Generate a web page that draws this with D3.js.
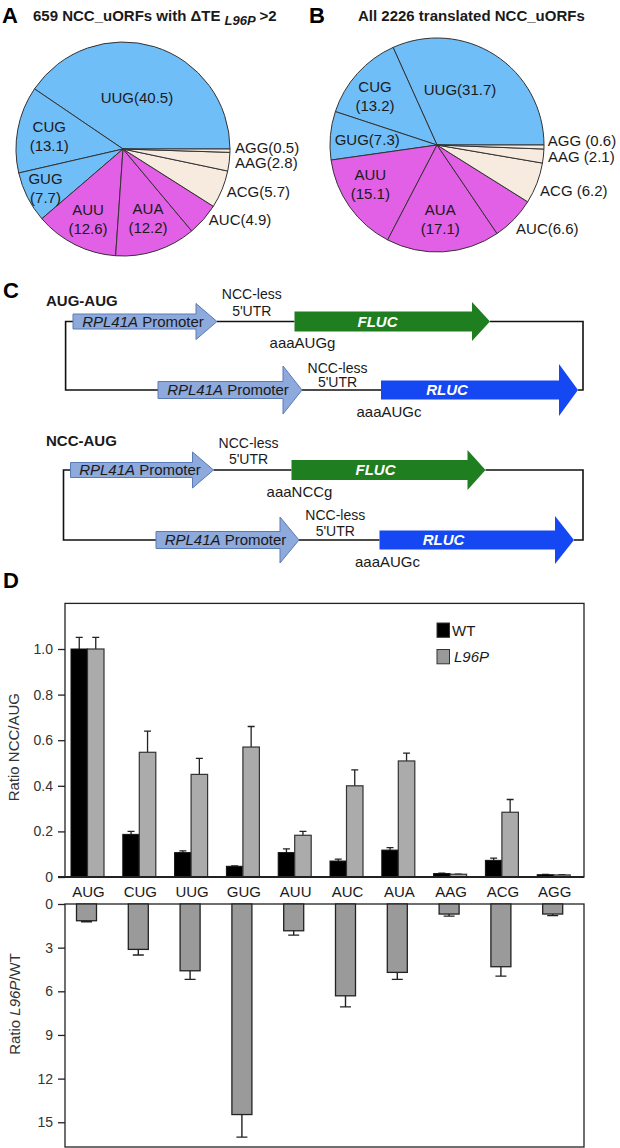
<!DOCTYPE html>
<html><head><meta charset="utf-8">
<script src="https://cdn.jsdelivr.net/npm/d3@7"></script>
<style>
body{margin:0;background:#fff;}
svg{display:block;font-family:"Liberation Sans",Arial,Helvetica,sans-serif;}
</style></head><body>
<svg id="fig" width="620" height="1148"></svg>
<script>
// ---------- DATA ----------
// Panels A & B: pie slices (percent), counter-clockwise from 3 o'clock
const codons = ["UUG","CUG","GUG","AUU","AUA","AUC","ACG","AAG","AGG"];
const pctA = [40.5,13.1,7.7,12.6,12.2,4.9,5.7,2.8,0.5];
const pctB = [31.7,13.2,7.3,15.1,17.1,6.6,6.2,2.1,0.6];
const codonClass = ["U","U","U","A","A","A","N","N","N"];
const titleA = ["659 NCC_uORFs with \u0394TE", "L96P", ">2"];
const titleB = "All 2226 translated NCC_uORFs";

// Panel C: reporter constructs
const constructNames = ["AUG-AUG","NCC-AUG"];
const geneNames = ["FLUC","RLUC","FLUC","RLUC"];
const startContexts = ["aaaAUGg","aaaAUGc","aaaNCCg","aaaAUGc"];
const promoterName = ["RPL41A"," Promoter"];
const utrLabel = ["NCC-less","5'UTR"];

// Panel D: ratios
const cats = ["AUG","CUG","UUG","GUG","AUU","AUC","AUA","AAG","ACG","AGG"];
const wtRatio   = [1.0,0.187,0.107,0.047,0.107,0.070,0.118,0.015,0.073,0.010];
const wtSD      = [0.051,0.013,0.008,0.002,0.016,0.008,0.011,0.002,0.010,0.001];
const l96pRatio = [1.0,0.547,0.450,0.570,0.183,0.400,0.509,0.012,0.284,0.009];
const l96pSD    = [0.051,0.093,0.070,0.090,0.017,0.070,0.034,0.001,0.056,0.001];
const foldRatio = [1.15,3.12,4.59,14.47,1.84,6.31,4.70,0.69,4.31,0.69];
const foldSD    = [0.07,0.38,0.59,1.55,0.30,0.76,0.48,0.14,0.65,0.11];
const topTicks = [0,0.2,0.4,0.6,0.8,1.0];
const botTicks = [0,3,6,9,12,15];

// ---------- STYLE / LAYOUT ----------
const colClass = {U:"#70BEF8", A:"#E160E6", N:"#F7EADF"};
const svg = d3.select("#fig");
const txt = "#1a1a1a";

function letter(s,x,y){svg.append("text").attr("x",x).attr("y",y).attr("font-size",22).attr("font-weight","bold").attr("fill","#000").text(s);}
letter("A",2,23); letter("B",309,23); letter("C",3,298); letter("D",3,588);

// titles
const tA = svg.append("text").attr("x",33).attr("y",21).attr("font-size",15).attr("font-weight","bold").attr("fill",txt);
tA.append("tspan").text(titleA[0]);
tA.append("tspan").attr("dx",4).attr("dy",4.3).attr("font-size",13).attr("font-style","italic").text(titleA[1]);
tA.append("tspan").attr("dx",4).attr("dy",-4.3).text(titleA[2]);
svg.append("text").attr("x",358).attr("y",21).attr("font-size",15).attr("font-weight","bold").attr("fill",txt).text(titleB);

// ---------- PIES ----------
const R = 107;
const pie = d3.pie().sort(null).startAngle(Math.PI/2).endAngle(Math.PI/2 - 2*Math.PI);
const arc = d3.arc().innerRadius(0).outerRadius(R);
function drawPie(vals, cx, cy, lab){
  const g = svg.append("g").attr("transform",`translate(${cx},${cy})`);
  const arcs = pie(vals);
  g.selectAll("path").data(arcs).join("path")
    .attr("d",arc).attr("fill",(d,i)=>colClass[codonClass[i]])
    .attr("stroke","#333").attr("stroke-width",1);
  arcs.forEach((d,i)=>{
    const a = (d.startAngle+d.endAngle)/2 - lab.off[i]*Math.PI/180;
    const r = lab.r[i]*R;
    const x = r*Math.sin(a), y = -r*Math.cos(a);
    const v = d3.format(".1f")(vals[i]);
    const t = g.append("text").attr("font-size",15).attr("fill",txt);
    if (lab.two[i]) {
      t.attr("text-anchor","middle");
      t.append("tspan").attr("x",x).attr("y",y-9.5).attr("dy","0.35em").text(codons[i]);
      t.append("tspan").attr("x",x).attr("y",y+9.5).attr("dy","0.35em").text("("+v+")");
    } else {
      t.attr("text-anchor", lab.r[i]>1 ? "start" : "middle")
       .attr("x",x).attr("y",y).attr("dy","0.35em")
       .text(codons[i]+lab.sep[i]+"("+v+")");
    }
  });
}
drawPie(pctA,123,149,{
  r:[0.50,0.70,0.81,0.73,0.69,1.04,1.05,1.056,1.047],
  off:[2,0.6,-0.2,0,1.8,1.7,-0.4,-0.3,1.4],
  two:[false,true,true,true,true,false,false,false,false],
  sep:["","","","","","","","",""]
});
drawPie(pctB,437,145,{
  r:[0.557,0.735,0.654,0.722,0.69,1.075,1.054,1.043,1.037],
  off:[10.2,4,1,-5,-0.8,-2.6,-3,0,3.4],
  two:[false,true,false,true,true,false,false,false,false],
  sep:["","","","","",""," "," "," "]
});

// ---------- PANEL C ----------
function blockArrow(x0,x1,yc,bh,hh,hl){
  const xh = x1-hl;
  return `M${x0},${yc-bh/2}H${xh}V${yc-hh/2}L${x1},${yc}L${xh},${yc+hh/2}V${yc+bh/2}H${x0}Z`;
}
const rowsC = [
  {yc:321.5, p:[73,217], pb:15, ph:36, phl:21, g:[294.5,490], gb:20, gh:39, ghl:18, gtx:83, gc:"#1F7E1F", utr:[-27,-10.5]},
  {yc:390,   p:[158,302], pb:17, ph:48, phl:19, g:[381,578], gb:19, gh:52, ghl:19, gtx:66, gc:"#1547F2", utr:[-22,-7.5]},
  {yc:470,   p:[70.5,213.5], pb:15, ph:36, phl:21, g:[291.5,485.5], gb:20, gh:40, ghl:18, gtx:84, gc:"#1F7E1F", utr:[-27,-10.5]},
  {yc:540,   p:[156,299], pb:17, ph:46, phl:19, g:[379.5,574], gb:19, gh:48, ghl:19, gtx:64, gc:"#1547F2", utr:[-25,-9]}
];
const frames = [{l:65.6, r:583, rows:[0,1], label:[46,306]}, {l:63.5, r:583, rows:[2,3], label:[46,446]}];
frames.forEach((f,k)=>{
  const a = rowsC[f.rows[0]], b = rowsC[f.rows[1]];
  svg.append("path").attr("fill","none").attr("stroke","#111").attr("stroke-width",1.6)
    .attr("d",`M${a.p[0]},${a.yc}H${f.l}V${b.yc}H${b.p[0]}`+
              `M${a.p[1]},${a.yc}H${a.g[0]}`+
              `M${a.g[1]},${a.yc}H${f.r}V${b.yc}H${b.g[1]}`+
              `M${b.p[1]},${b.yc}H${b.g[0]}`);
  svg.append("text").attr("x",f.label[0]).attr("y",f.label[1]).attr("font-size",15).attr("font-weight","bold").attr("fill",txt).text(constructNames[k]);
});
rowsC.forEach((r,i)=>{
  svg.append("path").attr("d",blockArrow(r.p[0],r.p[1],r.yc,r.pb,r.ph,r.phl))
    .attr("fill","#8EA9DB").attr("stroke","#5A7BB6").attr("stroke-width",1);
  const pt = svg.append("text").attr("x",(r.p[0]+r.p[1])/2-2).attr("y",r.yc).attr("dy","0.35em")
    .attr("text-anchor","middle").attr("font-size",15).attr("fill",txt);
  pt.append("tspan").attr("font-style","italic").text(promoterName[0]);
  pt.append("tspan").text(promoterName[1]);
  svg.append("path").attr("d",blockArrow(r.g[0],r.g[1],r.yc,r.gb,r.gh,r.ghl)).attr("fill",r.gc);
  svg.append("text").attr("x",r.g[0]+r.gtx).attr("y",r.yc).attr("dy","0.35em").attr("text-anchor","middle")
    .attr("font-size",15).attr("font-weight","bold").attr("font-style","italic").attr("fill","#fff").text(geneNames[i]);
  const ux = (r.p[1]+r.g[0])/2 - 4;
  utrLabel.forEach((s,j)=>svg.append("text").attr("x",ux).attr("y",r.yc+r.utr[j]).attr("dy","0.35em")
    .attr("text-anchor","middle").attr("font-size",14).attr("fill",txt).text(s));
  svg.append("text").attr("x",r.g[0]+8).attr("y",r.yc+21.5).attr("dy","0.35em").attr("text-anchor","middle")
    .attr("font-size",15).attr("fill",txt).text(startContexts[i]);
});

// ---------- PANEL D ----------
const L = 65, Rr = 584;
const x = d3.scaleBand().domain(cats).range([61.6,579.6]);
const cx = c => x(c) + x.bandwidth()/2;
const yT = d3.scaleLinear().domain([0,1.2]).range([877,603.4]);
const yB = d3.scaleLinear().domain([0,16.7]).range([904,1147]);
const bw = 16.5;

// top box
svg.append("rect").attr("x",L).attr("y",yT(1.2)).attr("width",Rr-L).attr("height",yT(0)-yT(1.2))
  .attr("fill","none").attr("stroke","#222").attr("stroke-width",1.3);
// top bars
const gT = svg.append("g");
cats.forEach((c,i)=>{
  const xc = cx(c);
  // error bars
  [[xc-bw/2, wtRatio[i], wtSD[i]],[xc+bw/2, l96pRatio[i], l96pSD[i]]].forEach(([ex,v,s])=>{
    gT.append("path").attr("fill","none").attr("stroke","#222").attr("stroke-width",1.3)
      .attr("d",`M${ex},${yT(v)}V${yT(v+s)}M${ex-3.5},${yT(v+s)}H${ex+3.5}`);
  });
  gT.append("rect").attr("x",xc-bw).attr("y",yT(wtRatio[i])).attr("width",bw).attr("height",yT(0)-yT(wtRatio[i]))
    .attr("fill","#000").attr("stroke","#111").attr("stroke-width",1);
  gT.append("rect").attr("x",xc).attr("y",yT(l96pRatio[i])).attr("width",bw).attr("height",yT(0)-yT(l96pRatio[i]))
    .attr("fill","#ABABAB").attr("stroke","#333").attr("stroke-width",1.2);
});
const axT = svg.append("g").attr("transform",`translate(${L},0)`)
  .call(d3.axisLeft(yT).tickValues(topTicks).tickFormat(d=>d===0?"0":d3.format(".1f")(d)).tickSize(7).tickSizeOuter(0).tickPadding(5));
axT.select(".domain").remove();
axT.selectAll("line").attr("stroke","#222").attr("stroke-width",1.3);
axT.selectAll("text").attr("font-size",14).attr("fill","#333").attr("font-family",null);
svg.append("line").attr("x1",L-7).attr("x2",Rr).attr("y1",yT(0)).attr("y2",yT(0)).attr("stroke","#222").attr("stroke-width",2);
svg.append("text").attr("transform",`translate(14,${(yT(0)+yT(1.2))/2+7}) rotate(-90)`).attr("dy","0.35em")
  .attr("text-anchor","middle").attr("font-size",15).attr("fill","#333").text("Ratio NCC/AUG");

// legend
const legend = [["WT","#000",false],["L96P","#999",true]];
legend.forEach(([s,c,it],i)=>{
  svg.append("rect").attr("x",437).attr("y",623+i*26.5).attr("width",12.5).attr("height",14.3)
    .attr("fill",c).attr("stroke","#333").attr("stroke-width",1);
  svg.append("text").attr("x",452+i*2).attr("y",630.5+i*26.5).attr("dy","0.35em").attr("font-size",15)
    .attr("font-style",it?"italic":"normal").attr("fill",txt).text(s);
});

// category labels
cats.forEach(c=>svg.append("text").attr("x",cx(c)+1).attr("y",891.5).attr("dy","0.35em").attr("text-anchor","middle")
  .attr("font-size",15).attr("fill",txt).text(c));

// bottom box
svg.append("rect").attr("x",L).attr("y",yB(0)).attr("width",Rr-L).attr("height",yB(16.7)-yB(0))
  .attr("fill","none").attr("stroke","#222").attr("stroke-width",1.3);
const gB = svg.append("g");
const bw2 = 20;
cats.forEach((c,i)=>{
  const xc = cx(c) - 1;
  const v = foldRatio[i], s = foldSD[i];
  gB.append("path").attr("fill","none").attr("stroke","#222").attr("stroke-width",1.4)
    .attr("d",`M${xc},${yB(v)}V${yB(v+s)}M${xc-5.5},${yB(v+s)}H${xc+5.5}`);
  gB.append("rect").attr("x",xc-bw2/2).attr("y",yB(0)).attr("width",bw2).attr("height",yB(v)-yB(0))
    .attr("fill","#9A9A9A").attr("stroke","#222").attr("stroke-width",1.3);
});
const axB = svg.append("g").attr("transform",`translate(${L},0)`)
  .call(d3.axisLeft(yB).tickValues(botTicks).tickSize(7).tickSizeOuter(0).tickPadding(5));
axB.select(".domain").remove();
axB.selectAll("line").attr("stroke","#222").attr("stroke-width",1.3);
axB.selectAll("text").attr("font-size",14).attr("fill","#333").attr("font-family",null);
const yl = svg.append("text").attr("transform",`translate(15,1004) rotate(-90)`).attr("dy","0.35em")
  .attr("text-anchor","middle").attr("font-size",15).attr("fill","#333");
yl.append("tspan").text("Ratio ");
yl.append("tspan").attr("font-style","italic").text("L96P");
yl.append("tspan").text("/WT");
</script>
</body></html>
